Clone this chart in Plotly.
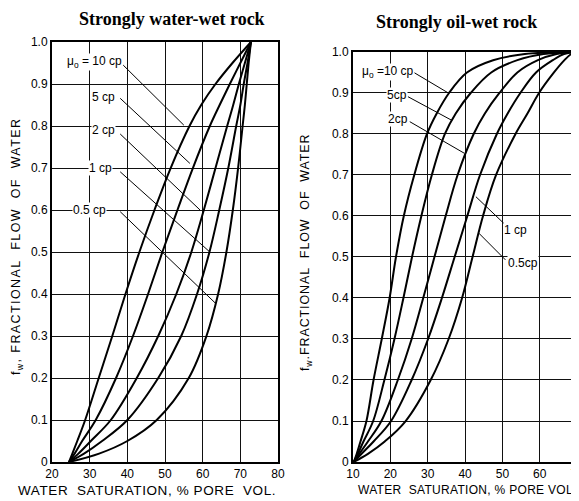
import plotly.graph_objects as go

FW_WATER_WET = [0, 0.02, 0.05, 0.1, 0.2, 0.3, 0.4, 0.5, 0.6, 0.7, 0.8, 0.85, 0.9, 0.95, 1.0]
SW_WW_10CP = [24.5, 25.4, 26.7, 28.8, 32.4, 36.0, 39.5, 43.2, 47.2, 51.5, 56.5, 59.6, 63.4, 67.9, 72.8]
SW_WW_5CP = [24.5, 26.0, 28.0, 31.6, 37.0, 41.5, 45.5, 49.3, 53.3, 57.4, 61.9, 64.5, 67.2, 70.0, 72.8]
SW_WW_2CP = [24.5, 27.0, 30.3, 35.6, 42.5, 48.2, 53.0, 57.0, 60.3, 63.4, 66.5, 68.1, 69.6, 71.2, 72.8]
SW_WW_1CP = [24.5, 28.5, 33.3, 40.0, 48.2, 54.3, 58.5, 61.8, 64.4, 66.8, 68.9, 70.0, 70.9, 71.9, 72.8]
SW_WW_05CP = [24.5, 32.5, 40.0, 47.8, 56.3, 61.0, 64.1, 66.3, 68.0, 69.4, 70.6, 71.2, 71.7, 72.2, 72.8]

FW_OIL_WET = [0, 0.02, 0.05, 0.1, 0.2, 0.3, 0.4, 0.5, 0.6, 0.7, 0.8, 0.85, 0.9, 0.95, 0.98, 0.995, 1.0]
SW_OW_10CP = [10.2, 11.0, 12.0, 13.6, 15.5, 17.7, 19.8, 21.5, 23.6, 26.4, 29.8, 32.4, 35.7, 40.5, 47.5, 56.0, 70.0]
SW_OW_5CP = [10.2, 11.3, 12.8, 15.4, 18.4, 21.1, 23.5, 25.8, 28.3, 31.1, 34.6, 37.5, 41.5, 47.0, 54.0, 61.0, 70.0]
SW_OW_2CP = [10.2, 11.7, 14.0, 17.6, 22.0, 25.7, 28.8, 31.8, 34.8, 38.0, 42.3, 45.3, 49.2, 54.0, 59.5, 64.5, 70.0]
SW_OW_1CP = [10.2, 12.3, 15.5, 20.2, 25.7, 30.1, 33.8, 37.2, 40.6, 44.0, 48.5, 51.4, 54.8, 59.0, 63.5, 66.5, 70.0]
SW_OW_05CP = [10.2, 14.0, 18.5, 24.1, 30.8, 35.6, 39.2, 42.0, 44.8, 48.3, 53.5, 56.7, 59.8, 63.8, 66.6, 68.4, 70.0]

FW_TICKS = [0, 0.1, 0.2, 0.3, 0.4, 0.5, 0.6, 0.7, 0.8, 0.9, 1.0]
FW_TICK_TEXT = ["0", "0.1", "0.2", "0.3", "0.4", "0.5", "0.6", "0.7", "0.8", "0.9", "1.0"]
SW_TICKS_WW = [20, 30, 40, 50, 60, 70, 80]
SW_TICKS_OW = [10, 20, 30, 40, 50, 60, 70]

# curve labels: text, text position (Sw, fw), leader start, leader end
WW_LABELS = ["\u03bc<sub>o</sub> = 10 cp", "5 cp", "2 cp", "1 cp", "0.5 cp"]
WW_LABEL_POS = [(31.3, 0.952), (33.6, 0.869), (33.6, 0.790), (33.0, 0.700), (30.0, 0.600)]
WW_LEADER_START = [(38.9, 0.945), (38.1, 0.866), (38.1, 0.781), (38.1, 0.691), (38.1, 0.596)]
WW_LEADER_END = [(55.0, 0.802), (56.6, 0.711), (59.3, 0.600), (61.9, 0.500), (63.4, 0.378)]

OW_LABELS = ["\u03bc<sub>o</sub> =10 cp", "5cp", "2cp", "1 cp", "0.5cp"]
OW_LABEL_POS = [(19.3, 0.951), (21.8, 0.895), (22.1, 0.836), (53.5, 0.566), (55.6, 0.485)]
OW_LEADER_START = [(26.3, 0.950), (24.7, 0.891), (25.2, 0.830), (51.3, 0.574), (50.8, 0.493)]
OW_LEADER_END = [(35.7, 0.899), (36.3, 0.834), (39.8, 0.753), (42.9, 0.647), (43.7, 0.558)]

FONT = "Liberation Sans, Arial, sans-serif"
SERIF = "Liberation Serif, Times New Roman, serif"

fig = go.Figure()

for sw in [SW_WW_10CP, SW_WW_5CP, SW_WW_2CP, SW_WW_1CP, SW_WW_05CP]:
    fig.add_trace(go.Scatter(x=sw, y=FW_WATER_WET, mode="lines",
                             line=dict(color="black", width=2, shape="spline", smoothing=1),
                             xaxis="x", yaxis="y", showlegend=False, hoverinfo="skip"))

for sw in [SW_OW_10CP, SW_OW_5CP, SW_OW_2CP, SW_OW_1CP, SW_OW_05CP]:
    fig.add_trace(go.Scatter(x=sw, y=FW_OIL_WET, mode="lines",
                             line=dict(color="black", width=2, shape="spline", smoothing=1),
                             xaxis="x2", yaxis="y2", showlegend=False, hoverinfo="skip"))

shapes = []
annotations = []
for labels, pos, start, end, xr, yr in [
        (WW_LABELS, WW_LABEL_POS, WW_LEADER_START, WW_LEADER_END, "x", "y"),
        (OW_LABELS, OW_LABEL_POS, OW_LEADER_START, OW_LEADER_END, "x2", "y2")]:
    for txt, p, s, e in zip(labels, pos, start, end):
        shapes.append(dict(type="line", xref=xr, yref=yr, x0=s[0], y0=s[1], x1=e[0], y1=e[1],
                           line=dict(color="black", width=1)))
        annotations.append(dict(text=txt, x=p[0], y=p[1], xref=xr, yref=yr, showarrow=False,
                                xanchor="center", yanchor="middle", bgcolor="white", borderpad=0,
                                font=dict(family=FONT, size=12, color="black")))


def paper_text(text, x, y, size, family=FONT, angle=0, xanchor="center", yanchor="middle"):
    return dict(text=text, x=x, y=y, xref="paper", yref="paper", xanchor=xanchor, yanchor=yanchor,
                showarrow=False, textangle=angle, borderpad=0,
                font=dict(family=family, size=size, color="black"))


def spaced(text, px):
    return f"<span style='letter-spacing:{px}px'>{text}</span>"


# panel titles
annotations.append(paper_text("<b>Strongly water-wet rock</b>", 0.2872, 1.0, 18, SERIF, yanchor="top"))
annotations.append(paper_text("<b>Strongly oil-wet rock</b>", 0.7863, 0.9716, 18, SERIF))

# axis titles
annotations.append(paper_text(spaced("f<sub>w</sub>, FRACTIONAL\u00a0 FLOW\u00a0 OF\u00a0 WATER", 1.4),
                              0.0, 0.5152, 12.5, angle=-90, xanchor="left"))
annotations.append(paper_text(spaced("f<sub>w</sub>.FRACTIONAL\u00a0 FLOW\u00a0 OF\u00a0 WATER", 0.9),
                              0.5219, 0.505, 12.5, angle=-90))
annotations.append(paper_text(spaced("WATER\u00a0 SATURATION, %\u00a0PORE\u00a0\u00a0VOL.", 0.6),
                              0.2434, 0.0223, 13.5))
annotations.append(paper_text(spaced("WATER\u00a0 SATURATION, %\u00a0PORE\u00a0VOL.", 0.3),
                              0.8056, 0.0223, 12))

axis_style = dict(showgrid=True, gridcolor="#111111", gridwidth=1, zeroline=False,
                  showline=True, linecolor="black", linewidth=2, mirror=True, automargin=False,
                  ticks="", tickfont=dict(family=FONT, size=12, color="black"), fixedrange=True)

# page body has an 8px margin, so the figure is sized to fill the rest of the window
fig.update_layout(
    width=571, height=493,
    margin=dict(l=0, r=0, t=0, b=0, pad=0, autoexpand=False),
    paper_bgcolor="white", plot_bgcolor="white",
    xaxis=dict(domain=[0.0771, 0.4729], range=[20, 80], tickvals=SW_TICKS_WW, anchor="y", **axis_style),
    yaxis=dict(domain=[0.0791, 0.9310], range=[0, 1], tickvals=FW_TICKS, ticktext=FW_TICK_TEXT,
               anchor="x", **axis_style),
    xaxis2=dict(domain=[0.6042, 1.0], range=[10, 70.5], tickvals=SW_TICKS_OW, anchor="y2",
                ticklabeloverflow="allow", **axis_style),
    yaxis2=dict(domain=[0.0791, 0.9108], range=[0, 1], tickvals=FW_TICKS, ticktext=FW_TICK_TEXT,
                anchor="x2", **axis_style),
    shapes=shapes,
    annotations=annotations,
    showlegend=False,
)

fig.write_html("out.html")
